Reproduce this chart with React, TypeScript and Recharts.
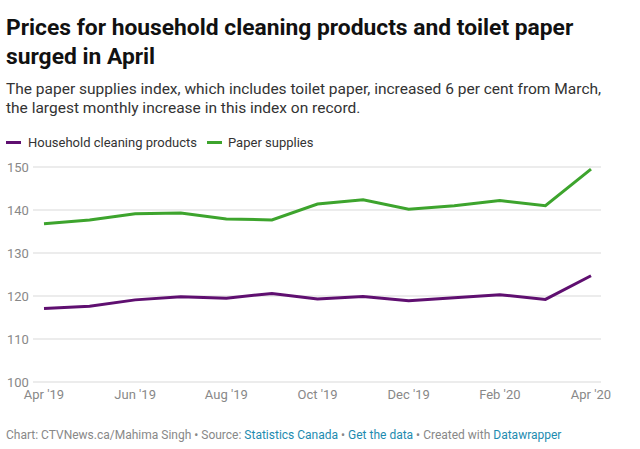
import { LineChart, Line, XAxis, YAxis, CartesianGrid } from 'recharts'

const months = [
  "Apr '19", "May '19", "Jun '19", "Jul '19", "Aug '19", "Sep '19", "Oct '19",
  "Nov '19", "Dec '19", "Jan '20", "Feb '20", "Mar '20", "Apr '20",
]
const householdCleaning = [117.1, 117.6, 119.1, 119.8, 119.5, 120.6, 119.3, 119.9, 118.9, 119.6, 120.3, 119.2, 124.7]
const paperSupplies = [136.8, 137.7, 139.1, 139.3, 137.9, 137.7, 141.4, 142.4, 140.2, 141.0, 142.2, 141.0, 149.5]
const xTicks = ["Apr '19", "Jun '19", "Aug '19", "Oct '19", "Dec '19", "Feb '20", "Apr '20"]
const yTicks = [100, 110, 120, 130, 140, 150]

const PURPLE = '#5f0f70'
const GREEN = '#3da42d'
const FONT = 'Roboto, sans-serif'

const data = months.map((m, i) => ({
  month: m,
  household: householdCleaning[i],
  paper: paperSupplies[i],
}))

const YTick = ({ y, payload }: any) => (
  <text x={7} y={y} dy={5} fontSize={13} fill="#888" fontFamily={FONT} textAnchor="start">
    {payload.value}
  </text>
)

const link = { color: '#1d8bb0' }

export default function App() {
  return (
    <div
      style={{
        position: 'absolute',
        left: 0,
        top: 0,
        width: 640,
        height: 449,
        background: '#fff',
        fontFamily: FONT,
      }}
    >
      <div
        style={{
          position: 'absolute',
          left: 6,
          top: 13,
          width: 630,
          fontSize: 22.8,
          fontWeight: 700,
          lineHeight: '29px',
          color: '#111',
        }}
      >
        Prices for household cleaning products and toilet paper surged in April
      </div>
      <div
        style={{
          position: 'absolute',
          left: 6,
          top: 80,
          width: 610,
          fontSize: 15.5,
          lineHeight: '19px',
          color: '#333',
        }}
      >
        The paper supplies index, which includes toilet paper, increased 6 per cent from March, the largest monthly increase in this index on record.
      </div>
      <div
        style={{
          position: 'absolute',
          left: 6,
          top: 135,
          fontSize: 13,
          color: '#333',
          display: 'flex',
          alignItems: 'center',
        }}
      >
        <span style={{ width: 15, height: 3, background: PURPLE, marginRight: 7 }} />
        <span style={{ marginRight: 10 }}>Household cleaning products</span>
        <span style={{ width: 15, height: 3, background: GREEN, marginRight: 6 }} />
        <span>Paper supplies</span>
      </div>
      <LineChart
        width={640}
        height={262}
        data={data}
        style={{ position: 'absolute', left: 0, top: 150 }}
        margin={{ top: 17, right: 39, left: 0, bottom: 0 }}
      >
        <CartesianGrid vertical={false} stroke="#d9d9d9" />
        <XAxis
          dataKey="month"
          ticks={xTicks}
          interval={0}
          axisLine={false}
          tickLine={false}
          padding={{ left: 11, right: 10 }}
          tick={{ fontSize: 13, fill: '#888', fontFamily: FONT }}
          tickMargin={2}
        />
        <YAxis
          domain={[100, 150]}
          ticks={yTicks}
          width={33}
          axisLine={false}
          tickLine={false}
          tick={<YTick />}
        />
        <Line
          dataKey="household"
          stroke={PURPLE}
          strokeWidth={3}
          dot={false}
          type="linear"
          isAnimationActive={false}
        />
        <Line
          dataKey="paper"
          stroke={GREEN}
          strokeWidth={3}
          dot={false}
          type="linear"
          isAnimationActive={false}
        />
      </LineChart>
      <div
        style={{
          position: 'absolute',
          left: 6,
          top: 428,
          fontSize: 12,
          color: '#888',
        }}
      >
        Chart: CTVNews.ca/Mahima Singh • Source: <span style={link}>Statistics Canada</span> •{' '}
        <span style={link}>Get the data</span> • Created with <span style={link}>Datawrapper</span>
      </div>
    </div>
  )
}
